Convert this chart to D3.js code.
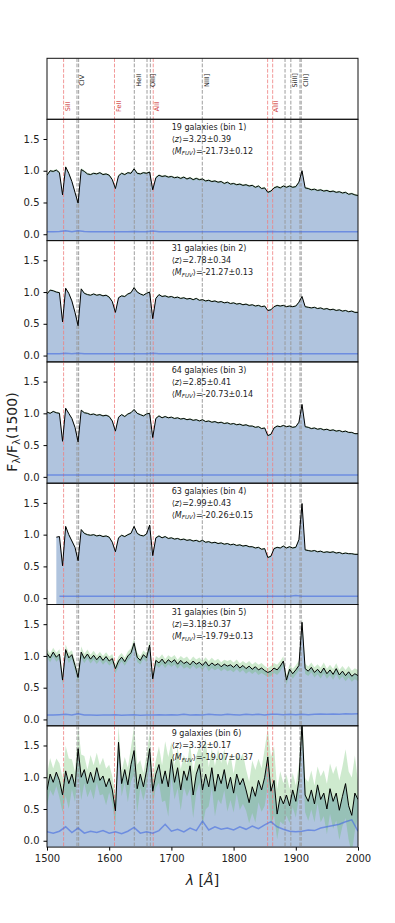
<!DOCTYPE html>
<html>
<head>
<meta charset="utf-8">
<script src="https://cdn.jsdelivr.net/npm/d3@7"></script>
<style>
body { margin: 0; background: white; }
text { font-family: "DejaVu Sans", sans-serif; }
</style>
</head>
<body>
<script>
/* Data */
var wavelengths = [1500,1505,1510,1515,1520,1525,1530,1535,1540,1545,1550,1555,1560,1565,1570,1575,1580,1585,1590,1595,
	1600,1605,1610,1615,1620,1625,1630,1635,1640,1645,1650,1655,1660,1665,1670,1675,1680,1685,1690,1695,
	1700,1705,1710,1715,1720,1725,1730,1735,1740,1745,1750,1755,1760,1765,1770,1775,1780,1785,1790,1795,
	1800,1805,1810,1815,1820,1825,1830,1835,1840,1845,1850,1855,1860,1865,1870,1875,1880,1885,1890,1895,
	1900,1905,1910,1915,1920,1925,1930,1935,1940,1945,1950,1955,1960,1965,1970,1975,1980,1985,1990,1995,2000];

var noiseWavelengths = [1500,1510,1520,1530,1540,1550,1560,1570,1580,1590,1600,1610,1620,1630,1640,1650,1660,1670,1680,1690,
	1700,1710,1720,1730,1740,1750,1760,1770,1780,1790,1800,1810,1820,1830,1840,1850,1860,1870,1880,1890,
	1900,1910,1920,1930,1940,1950,1960,1970,1980,1990,2000];

var flux1 = [0.93,1.00,0.99,1.01,0.97,0.62,1.06,0.96,0.83,0.66,0.49,1.02,0.99,0.95,0.94,0.96,0.95,0.97,0.94,0.95,
	0.93,0.86,0.72,0.92,0.96,0.94,0.97,0.96,1.03,0.96,0.95,0.97,0.96,0.98,0.70,0.89,0.93,0.91,0.92,0.90,
	0.91,0.89,0.90,0.88,0.90,0.87,0.89,0.86,0.88,0.86,0.87,0.84,0.85,0.83,0.84,0.82,0.83,0.80,0.82,0.79,
	0.80,0.78,0.79,0.77,0.78,0.76,0.77,0.74,0.76,0.72,0.73,0.66,0.68,0.73,0.75,0.73,0.76,0.74,0.76,0.74,
	0.75,0.82,1.00,0.73,0.72,0.70,0.71,0.69,0.70,0.68,0.69,0.67,0.68,0.66,0.67,0.65,0.66,0.63,0.64,0.62,0.61];

var flux2 = [0.97,1.03,1.02,1.00,0.99,0.53,1.06,0.98,0.86,0.68,0.47,1.05,0.98,0.96,0.95,0.97,0.95,0.96,0.94,0.95,
	0.92,0.85,0.68,0.91,0.94,0.93,0.97,0.99,1.07,1.00,0.97,0.95,0.98,1.00,0.58,0.90,0.96,0.93,0.94,0.92,
	0.93,0.91,0.92,0.90,0.91,0.89,0.90,0.88,0.90,0.87,0.88,0.86,0.87,0.85,0.86,0.84,0.85,0.83,0.84,0.82,
	0.83,0.81,0.82,0.80,0.81,0.79,0.80,0.78,0.79,0.77,0.78,0.71,0.72,0.77,0.79,0.78,0.79,0.77,0.78,0.77,
	0.78,0.84,0.93,0.77,0.76,0.75,0.76,0.74,0.75,0.73,0.74,0.72,0.73,0.71,0.72,0.70,0.71,0.69,0.70,0.68,0.68];

var flux3 = [1.02,1.00,1.03,1.01,1.00,0.56,1.08,1.00,0.92,0.78,0.55,1.05,1.01,1.00,0.98,0.99,0.97,0.98,0.96,0.97,
	0.95,0.88,0.72,0.94,0.98,0.95,0.99,1.01,1.06,1.00,0.98,0.96,0.99,1.00,0.62,0.92,0.96,0.93,0.95,0.93,
	0.94,0.92,0.93,0.91,0.92,0.90,0.91,0.89,0.90,0.88,0.90,0.87,0.88,0.86,0.87,0.85,0.86,0.84,0.85,0.83,
	0.84,0.82,0.83,0.81,0.82,0.80,0.80,0.78,0.79,0.76,0.77,0.65,0.67,0.77,0.80,0.79,0.81,0.79,0.80,0.78,
	0.79,0.86,1.14,0.79,0.78,0.76,0.77,0.75,0.76,0.74,0.75,0.73,0.74,0.72,0.73,0.71,0.72,0.70,0.70,0.68,0.68];

var flux4 = [null,null,null,0.96,0.97,0.51,1.13,1.00,0.90,0.80,0.59,1.08,1.02,1.00,0.99,1.00,0.98,0.99,0.97,0.98,
	0.96,0.88,0.73,0.95,0.99,0.97,1.00,1.02,1.13,1.02,0.99,0.98,1.01,1.15,0.67,0.95,0.98,0.95,0.97,0.94,
	0.95,0.93,0.94,0.92,0.93,0.91,0.92,0.90,0.91,0.89,0.91,0.88,0.89,0.87,0.88,0.86,0.87,0.85,0.86,0.84,
	0.85,0.83,0.84,0.82,0.83,0.81,0.81,0.79,0.80,0.77,0.78,0.64,0.66,0.78,0.80,0.79,0.82,0.79,0.81,0.79,
	0.80,0.92,1.49,0.76,0.75,0.74,0.75,0.73,0.74,0.72,0.73,0.72,0.73,0.71,0.72,0.70,0.71,0.70,0.70,0.69,0.69];

var flux5 = [1.04,0.97,1.06,0.98,1.03,0.62,1.10,0.97,1.02,0.85,0.66,1.06,0.96,1.03,0.95,1.01,0.94,1.00,0.93,0.99,
	0.92,0.96,0.80,0.92,0.98,0.91,1.00,1.05,1.20,0.98,0.93,1.02,0.97,1.17,0.64,0.93,0.89,0.95,0.88,0.94,
	0.90,0.94,0.87,0.93,0.88,0.91,0.86,0.92,0.87,0.90,0.85,0.91,0.84,0.89,0.85,0.88,0.83,0.87,0.84,0.86,
	0.82,0.87,0.81,0.85,0.80,0.84,0.79,0.83,0.78,0.81,0.77,0.74,0.76,0.81,0.78,0.84,0.92,0.62,0.79,0.72,
	0.78,0.85,1.53,0.80,0.76,0.82,0.74,0.79,0.73,0.81,0.72,0.78,0.71,0.80,0.70,0.76,0.69,0.75,0.68,0.72,0.69];

var flux6 = [0.80,1.05,0.92,1.08,0.95,0.72,1.10,0.90,1.05,0.85,1.45,1.00,1.12,0.90,1.08,0.92,1.15,0.95,1.02,0.85,
	0.98,0.80,0.47,1.55,0.90,1.12,0.88,1.20,1.42,0.82,1.05,0.85,1.10,1.45,0.78,1.05,1.20,0.90,1.10,0.85,
	1.28,0.92,1.15,0.80,1.10,0.95,1.18,0.72,1.05,1.20,0.80,1.05,0.85,1.15,0.78,1.05,0.90,1.12,0.82,1.00,
	0.75,1.05,0.88,0.98,0.80,0.60,0.85,0.70,0.95,0.80,1.00,1.32,0.78,0.95,0.42,0.70,0.58,0.72,0.55,0.80,
	0.62,0.95,1.85,0.72,0.62,0.80,0.58,0.88,0.65,0.75,0.50,0.82,0.62,0.75,0.48,0.70,0.90,0.55,0.40,0.75,0.65];

var noise1 = [0.04,0.04,0.045,0.055,0.04,0.055,0.045,0.04,0.04,0.04,0.04,0.04,0.04,0.04,0.045,0.04,0.04,0.05,0.04,0.04,
	0.04,0.04,0.04,0.04,0.04,0.04,0.04,0.04,0.04,0.04,0.04,0.04,0.04,0.04,0.04,0.04,0.045,0.04,0.04,0.04,
	0.04,0.04,0.04,0.04,0.04,0.04,0.04,0.04,0.04,0.04,0.04];
var noise2 = [0.03,0.03,0.03,0.035,0.03,0.035,0.03,0.03,0.03,0.03,0.03,0.03,0.03,0.03,0.03,0.03,0.03,0.035,0.03,0.03,
	0.03,0.03,0.03,0.03,0.03,0.03,0.03,0.03,0.03,0.03,0.03,0.03,0.03,0.03,0.03,0.03,0.03,0.03,0.03,0.03,
	0.03,0.03,0.03,0.03,0.03,0.03,0.03,0.03,0.03,0.03,0.03];
var noise3 = [0.03,0.03,0.03,0.03,0.03,0.03,0.03,0.03,0.03,0.03,0.03,0.03,0.03,0.03,0.03,0.03,0.03,0.03,0.03,0.03,
	0.03,0.03,0.03,0.03,0.03,0.03,0.03,0.03,0.03,0.03,0.03,0.03,0.03,0.03,0.03,0.03,0.03,0.03,0.03,0.03,
	0.03,0.03,0.03,0.03,0.03,0.03,0.03,0.03,0.03,0.03,0.03];
var noise4 = [null,null,0.03,0.03,0.03,0.03,0.03,0.03,0.03,0.03,0.03,0.03,0.03,0.03,0.03,0.03,0.03,0.03,0.03,0.03,
	0.03,0.03,0.03,0.03,0.03,0.03,0.03,0.03,0.03,0.03,0.03,0.03,0.03,0.03,0.03,0.03,0.03,0.03,0.03,0.03,
	0.04,0.03,0.03,0.03,0.03,0.03,0.03,0.03,0.03,0.03,0.03];
var noise5 = [0.07,0.07,0.075,0.08,0.07,0.09,0.07,0.07,0.065,0.07,0.07,0.075,0.065,0.07,0.075,0.065,0.07,0.07,0.075,0.07,
	0.075,0.07,0.08,0.07,0.075,0.07,0.08,0.075,0.07,0.08,0.075,0.07,0.08,0.075,0.08,0.07,0.08,0.08,0.075,0.08,
	0.075,0.08,0.075,0.08,0.085,0.08,0.085,0.08,0.09,0.085,0.09];
var noise6 = [0.14,0.12,0.15,0.22,0.13,0.20,0.12,0.15,0.13,0.16,0.12,0.14,0.11,0.15,0.21,0.12,0.14,0.12,0.16,0.26,
	0.15,0.18,0.14,0.20,0.16,0.31,0.17,0.22,0.18,0.20,0.17,0.22,0.18,0.23,0.19,0.25,0.30,0.22,0.18,0.15,
	0.14,0.15,0.17,0.16,0.20,0.22,0.24,0.26,0.30,0.33,0.15];

var fluxes = [flux1, flux2, flux3, flux4, flux5, flux6];
var noises = [noise1, noise2, noise3, noise4, noise5, noise6];
var spreadScale = [0.4, 0.4, 0.4, 0.4, 1.0, 1.8]; // green band half-width in units of the noise
var galaxyCounts = [19, 31, 64, 63, 31, 9];
var zMeans = ["3.23", "2.78", "2.85", "2.99", "3.18", "3.32"];
var zErrs = ["0.39", "0.34", "0.41", "0.43", "0.37", "0.17"];
var mMeans = ["-21.73", "-21.27", "-20.73", "-20.26", "-19.79", "-19.07"];
var mErrs = ["0.12", "0.13", "0.14", "0.15", "0.13", "0.37"];

var redLines = [1526.7, 1608.5, 1670.8, 1854.7, 1862.8];
var grayLines = [1548.2, 1550.8, 1640.4, 1660.8, 1666.2, 1749.7, 1882.7, 1892.0, 1906.7, 1908.7];
var redLabels = [["SiII", 1526.7], ["FeII", 1608.5], ["AlII", 1669.5], ["AlIII", 1861]];
var grayLabels = [["CIV", 1549.5], ["HeII", 1640.4], ["OIII]", 1663.5], ["NIII]", 1750], ["SiIII]", 1892], ["CIII]", 1908.7]];

var yTicks = [0, 0.5, 1.0, 1.5];
var xTicks = [1500, 1600, 1700, 1800, 1900, 2000];

/* Display setup */
var width = 395, height = 923,
	margin = {left: 47, right: 37},
	plotW = width - margin.left - margin.right,
	labelTop = 58.3, labelH = 61,
	panelTop = 119.3, panelH = 121.3;

var svg = d3.select("body").append("svg")
	.attr("width", width)
	.attr("height", height);

svg.append("rect").attr("width", width).attr("height", height).style("fill", "white");

var x = d3.scaleLinear().domain([1500, 2000]).range([margin.left, margin.left + plotW]);

function drawMarkers(g, h) {
	g.selectAll("line.red")
		.data(redLines)
		.enter().append("line")
			.attr("class", "red")
			.attr("x1", function(d) { return x(d); })
			.attr("x2", function(d) { return x(d); })
			.attr("y1", 0)
			.attr("y2", h)
			.style("stroke", "#f08080")
			.style("stroke-width", 1)
			.style("stroke-dasharray", "3.7,1.6")
			.style("opacity", 0.8);
	g.selectAll("line.gray")
		.data(grayLines)
		.enter().append("line")
			.attr("class", "gray")
			.attr("x1", function(d) { return x(d); })
			.attr("x2", function(d) { return x(d); })
			.attr("y1", 0)
			.attr("y2", h)
			.style("stroke", "#999")
			.style("stroke-width", 1.1)
			.style("stroke-dasharray", "3.7,1.6")
			.style("opacity", 0.85);
}

/* Label panel */
var labelPanel = svg.append("g").attr("transform", "translate(0," + labelTop + ")");
drawMarkers(labelPanel, labelH);

labelPanel.selectAll("text.gl")
	.data(grayLabels)
	.enter().append("text")
		.attr("class", "gl")
		.attr("transform", function(d) { return "translate(" + (x(d[1]) + 6.5) + ",22) rotate(-90)"; })
		.attr("text-anchor", "middle")
		.style("font-size", "6.5px")
		.style("fill", "#222")
		.text(function(d) { return d[0]; });

labelPanel.selectAll("text.rl")
	.data(redLabels)
	.enter().append("text")
		.attr("class", "rl")
		.attr("transform", function(d) { return "translate(" + (x(d[1]) + 6.5) + ",48) rotate(-90)"; })
		.attr("text-anchor", "middle")
		.style("font-size", "6.5px")
		.style("fill", "#d04040")
		.text(function(d) { return d[0]; });

labelPanel.append("rect")
	.attr("x", margin.left)
	.attr("y", 0)
	.attr("width", plotW)
	.attr("height", labelH)
	.style("fill", "none")
	.style("stroke", "#111")
	.style("stroke-width", 1);

/* Spectrum panels */
var y = d3.scaleLinear().domain([-0.1, 1.81]).range([panelH, 0]);

fluxes.forEach(function(flux, i) {
	var noise = noises[i];
	var k = spreadScale[i];
	var pts = wavelengths.map(function(l, j) {
		return {l: l, f: flux[j], n: noise[Math.floor(j / 2)]};
	});
	var npts = noiseWavelengths.map(function(l, j) { return {l: l, n: noise[j]}; });

	var g = svg.append("g").attr("transform", "translate(0," + (panelTop + i * panelH) + ")");

	g.append("clipPath").attr("id", "clip" + i)
		.append("rect")
			.attr("x", margin.left)
			.attr("y", 0)
			.attr("width", plotW)
			.attr("height", panelH);

	var plot = g.append("g").attr("clip-path", "url(#clip" + i + ")");

	// area under the spectrum
	plot.append("path")
		.datum(pts)
		.attr("d", d3.area()
			.defined(function(d) { return d.f != null; })
			.x(function(d) { return x(d.l); })
			.y0(panelH + 5)
			.y1(function(d) { return y(d.f); }))
		.style("fill", "#b0c4de");

	// spread around the spectrum
	plot.append("path")
		.datum(pts)
		.attr("d", d3.area()
			.defined(function(d) { return d.f != null && d.n != null; })
			.x(function(d) { return x(d.l); })
			.y0(function(d) { return y(d.f - k * d.n); })
			.y1(function(d) { return y(d.f + k * d.n); }))
		.style("fill", "#5cb85c")
		.style("opacity", 0.3);

	drawMarkers(plot, panelH);

	// noise spectrum
	plot.append("path")
		.datum(npts)
		.attr("d", d3.line()
			.defined(function(d) { return d.n != null; })
			.x(function(d) { return x(d.l); })
			.y(function(d) { return y(d.n); }))
		.style("fill", "none")
		.style("stroke", "#4169e1")
		.style("stroke-width", 1.5)
		.style("opacity", 0.6);

	// stacked spectrum
	plot.append("path")
		.datum(pts)
		.attr("d", d3.line()
			.defined(function(d) { return d.f != null; })
			.x(function(d) { return x(d.l); })
			.y(function(d) { return y(d.f); }))
		.style("fill", "none")
		.style("stroke", "black")
		.style("stroke-width", 1);

	g.append("rect")
		.attr("x", margin.left)
		.attr("y", 0)
		.attr("width", plotW)
		.attr("height", panelH)
		.style("fill", "none")
		.style("stroke", "#111")
		.style("stroke-width", 1);

	var yAxis = g.append("g")
		.attr("transform", "translate(" + margin.left + ",0)")
		.call(d3.axisLeft(y).tickValues(yTicks).tickFormat(d3.format(".1f")).tickSize(3.5).tickPadding(4));
	yAxis.select(".domain").remove();
	yAxis.selectAll("text").style("font-size", "10px").style("font-family", "DejaVu Sans").style("fill", "#222");

	// annotation
	var tx = 171.7;
	var t = g.append("g").style("font-size", "8px").style("fill", "#222");
	t.append("text").attr("x", tx).attr("y", 10.7)
		.text(galaxyCounts[i] + " galaxies (bin " + (i + 1) + ")");
	var t2 = t.append("text").attr("x", tx).attr("y", 22.7);
	t2.append("tspan").text("\u27e8");
	t2.append("tspan").style("font-style", "italic").text("z");
	t2.append("tspan").text("\u27e9=" + zMeans[i] + "\u00b1" + zErrs[i]);
	var t3 = t.append("text").attr("x", tx).attr("y", 34.7);
	t3.append("tspan").text("\u27e8");
	t3.append("tspan").style("font-style", "italic").text("M");
	t3.append("tspan").style("font-style", "italic").style("font-size", "5.6px").attr("dy", 1.5).text("FUV");
	t3.append("tspan").attr("dy", -1.5).text("\u27e9=" + mMeans[i] + "\u00b1" + mErrs[i]);

	if (i == fluxes.length - 1) {
		var xAxis = g.append("g")
			.attr("transform", "translate(0," + panelH + ")")
			.call(d3.axisBottom(x).tickValues(xTicks).tickFormat(d3.format("d")).tickSize(3.5).tickPadding(4));
		xAxis.select(".domain").remove();
		xAxis.selectAll("text").style("font-size", "10px").style("font-family", "DejaVu Sans").style("fill", "#222");
	}
});

/* Axis titles */
var xLabel = svg.append("text")
	.attr("x", margin.left + plotW / 2)
	.attr("y", 885)
	.attr("text-anchor", "middle")
	.style("font-size", "14px")
	.style("fill", "#222");
xLabel.append("tspan").style("font-style", "italic").text("\u03bb");
xLabel.append("tspan").text(" [");
xLabel.append("tspan").style("font-style", "italic").text("\u00c5");
xLabel.append("tspan").text("]");

var yLabel = svg.append("text")
	.attr("transform", "translate(17,432) rotate(-90)")
	.attr("text-anchor", "middle")
	.style("font-size", "14px")
	.style("fill", "#222");
yLabel.append("tspan").text("F");
yLabel.append("tspan").attr("dy", 3).style("font-size", "10px").text("\u03bb");
yLabel.append("tspan").attr("dy", -3).text("/F");
yLabel.append("tspan").attr("dy", 3).style("font-size", "10px").text("\u03bb");
yLabel.append("tspan").attr("dy", -3).text("(1500)");
</script>
</body>
</html>
